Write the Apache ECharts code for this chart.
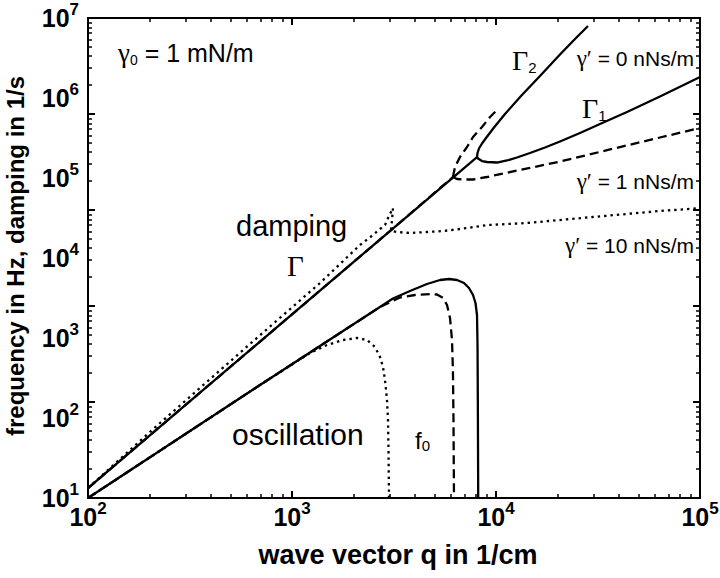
<!DOCTYPE html>
<html>
<head>
<meta charset="utf-8">
<title>capillary wave dispersion</title>
<script src="https://cdn.jsdelivr.net/npm/echarts@6.0.0/dist/echarts.min.js"></script>
<style>
  html, body { margin: 0; padding: 0; background: #fff; }
  #main { width: 720px; height: 578px; }
</style>
</head>
<body>
<div id="main"></div>
<script>
// values: q in 1/cm, frequency / damping in Hz or 1/s

// gamma' = 0 nNs/m (solid)
const q_gam0   = [100, 300, 1000, 3000, 8070];
const gam0     = [13.3, 145, 1970, 21400, 183000];
const q_gam0_2 = [8070, 8118, 8254, 8540, 8933, 9776, 11070, 13260, 16430, 20590, 24390, 28250];
const gam0_2   = [183000, 205400, 233800, 270000, 316200, 427900, 631000, 1059000, 1884000, 3498000, 5464000, 7943000];
const q_gam0_1 = [8070, 8160, 8540, 9035, 10110, 11320, 12670, 14680, 17390, 20590, 25810, 32340, 43870, 63660, 100000];
const gam0_1   = [183000, 175300, 163100, 158500, 156200, 165500, 180400, 205400, 240600, 286000, 365200, 473200, 668300, 1044000, 1830000];
const q_f0     = [100, 697, 3127, 3788, 4589, 5315, 5885, 6440, 6967, 7373, 7715, 7934, 8070, 8118, 8146, 8181];
const f0       = [10, 258.5, 3117, 3868, 4732, 5309, 5464, 5309, 4870, 4217, 3447, 2738, 1939, 817.5, 167.9, 10];

// gamma' = 1 nNs/m (dashed)
const q_gam1   = [100, 300, 1000, 3000, 6150];
const gam1     = [13.3, 145, 1970, 21400, 102900];
const q_gam1_2 = [6150, 6295, 6660, 7210, 7715, 8540, 9346, 10110];
const gam1_2   = [102900, 137200, 183000, 244100, 325500, 434100, 578800, 707900];
const q_gam1_1 = [6150, 6440, 6890, 7715, 9035, 10820, 14680, 20590, 36220, 63660, 100000];
const gam1_1   = [102900, 97160, 95780, 95780, 102900, 113800, 133400, 160800, 227200, 320800, 421700];
const q_f1     = [100, 697, 2700, 3383, 4008, 4749, 5138, 5498, 5753, 5951, 6086, 6150, 6189, 6224];
const f1       = [10, 258.5, 2441, 3208, 3447, 3548, 3498, 3162, 2585, 1778, 944, 398, 94.4, 10];

// gamma' = 10 nNs/m (dotted)
const q_gam10  = [100, 201, 622, 1372, 2154, 2495, 2700, 2857, 2955, 3057, 3127, 3092, 3057, 3271, 3788, 4589, 5498, 6660, 9139, 14190, 29890, 63660, 100000];
const gam10    = [13.3, 66.8, 841, 4870, 14540, 19390, 23040, 25850, 31620, 37580, 42170, 29850, 21750, 21130, 20540, 21130, 21750, 23040, 25850, 27380, 32550, 38680, 42000];
const q_f10    = [100, 697, 1225, 1484, 1778, 2083, 2331, 2552, 2700, 2793, 2857, 2922, 2955, 2972, 2989];
const f10      = [10, 258.5, 649, 817.5, 944, 1000, 944, 772, 579, 434, 298.5, 167.9, 94.4, 39.8, 10];

// tick labels
const xLabels = [100, 1000, 10000, 100000];
const yLabels = [10, 100, 1000, 10000, 100000, 1000000, 10000000];
// the printed y tick marks follow their own 5-decade spacing
const yTickMarks = [1, 10, 100, 1000, 10000, 100000];

const minorsOf = majors => {
  const out = [];
  majors.slice(0, -1).forEach(m => { for (let k = 2; k < 10; k++) out.push(m * k); });
  return out;
};

const pairs = (xs, ys) => xs.map((x, i) => [x, ys[i]]);

const SOLID = 'solid', DASHED = [9, 5], DOTTED = [2.4, 4];
const line = (xs, ys, dash) => ({
  type: 'line',
  data: pairs(xs, ys),
  symbol: 'none',
  silent: true,
  clip: true,
  lineStyle: { color: '#000', width: 2.3, type: dash, join: 'round' }
});

const SANS = "'Liberation Sans', Arial, sans-serif";
const SERIF = "'Liberation Serif', 'Times New Roman', serif";

const powLabel = {
  formatter: v => '{b|10}{e|' + Math.round(Math.log10(v)) + '}',
  rich: {
    b: { fontFamily: SANS, fontWeight: 'bold', fontSize: 25, lineHeight: 34, color: '#000' },
    e: { fontFamily: SANS, fontWeight: 'bold', fontSize: 17, lineHeight: 17, verticalAlign: 'top', color: '#000' }
  }
};

// tick-only axis (no line, no labels)
const tickAxis = (pos, min, max, values, len) => ({
  type: 'log', position: pos, min: min, max: max,
  axisLine: { show: false },
  splitLine: { show: false },
  axisLabel: { show: false },
  axisTick: { show: true, inside: true, length: len, customValues: values,
              lineStyle: { color: '#000', width: len > 5 ? 2 : 1.5 } }
});

const chart = echarts.init(document.getElementById('main'), null, { renderer: 'svg' });

chart.setOption({
  animation: false,
  backgroundColor: '#fff',
  grid: {
    left: 88, right: 20, top: 18, bottom: 80,
    show: true, borderColor: '#000', borderWidth: 2,
    containLabel: false, outerBoundsMode: 'none'
  },
  xAxis: [
    {
      type: 'log', position: 'bottom', min: 100, max: 100000,
      axisLine: { show: false }, splitLine: { show: false },
      axisTick: { show: true, inside: true, length: 7, customValues: xLabels, lineStyle: { color: '#000', width: 2 } },
      axisLabel: Object.assign({ customValues: xLabels, margin: 2 }, powLabel)
    },
    tickAxis('bottom', 100, 100000, minorsOf(xLabels), 4),
    tickAxis('top', 100, 100000, xLabels, 7),
    tickAxis('top', 100, 100000, minorsOf(xLabels), 4)
  ],
  yAxis: [
    {
      type: 'log', position: 'left', min: 10, max: 10000000,
      axisLine: { show: false }, splitLine: { show: false },
      axisTick: { show: false },
      axisLabel: Object.assign({ customValues: yLabels, margin: 9 }, powLabel)
    },
    tickAxis('left', 1, 100000, yTickMarks, 7),
    tickAxis('left', 1, 100000, minorsOf(yTickMarks), 4),
    tickAxis('right', 1, 100000, yTickMarks, 7),
    tickAxis('right', 1, 100000, minorsOf(yTickMarks), 4)
  ],
  series: [
    line(q_f10, f10, DOTTED),
    line(q_gam10, gam10, DOTTED),
    line(q_f1, f1, DASHED),
    line(q_gam1, gam1, DASHED),
    line(q_gam1_2, gam1_2, DASHED),
    line(q_gam1_1, gam1_1, DASHED),
    line(q_f0, f0, SOLID),
    line(q_gam0, gam0, SOLID),
    line(q_gam0_2, gam0_2, SOLID),
    line(q_gam0_1, gam0_1, SOLID)
  ],
  graphic: [
    { type: 'text', x: 118, y: 53, style: {
      text: '{g|γ}{s|0}{t| = 1 mN/m}', verticalAlign: 'middle',
      rich: {
        g: { fontFamily: SERIF, fontSize: 27, lineHeight: 28, fill: '#000' },
        s: { fontFamily: SANS, fontSize: 14, lineHeight: 14, verticalAlign: 'bottom', fill: '#000' },
        t: { fontFamily: SANS, fontSize: 25, lineHeight: 28, fill: '#000' }
      } } },
    { type: 'text', x: 236, y: 226, style: { text: 'damping', fontFamily: SANS, fontSize: 29, fill: '#000', verticalAlign: 'middle' } },
    { type: 'text', x: 287, y: 266, style: { text: 'Γ', fontFamily: SERIF, fontSize: 29, fill: '#000', verticalAlign: 'middle' } },
    { type: 'text', x: 512, y: 60, style: {
      text: '{G|Γ}{s|2}', verticalAlign: 'middle',
      rich: {
        G: { fontFamily: SERIF, fontSize: 28, lineHeight: 30, fill: '#000' },
        s: { fontFamily: SANS, fontSize: 15, lineHeight: 15, verticalAlign: 'bottom', fill: '#000' }
      } } },
    { type: 'text', x: 582, y: 108, style: {
      text: '{G|Γ}{s|1}', verticalAlign: 'middle',
      rich: {
        G: { fontFamily: SERIF, fontSize: 28, lineHeight: 30, fill: '#000' },
        s: { fontFamily: SANS, fontSize: 15, lineHeight: 15, verticalAlign: 'bottom', fill: '#000' }
      } } },
    { type: 'text', x: 694, y: 58, style: {
      text: '{g|γ′}{t| = 0 nNs/m}', align: 'right', verticalAlign: 'middle',
      rich: { g: { fontFamily: SERIF, fontSize: 23, fill: '#000' }, t: { fontFamily: SANS, fontSize: 21, fill: '#000' } } } },
    { type: 'text', x: 694, y: 181, style: {
      text: '{g|γ′}{t| = 1 nNs/m}', align: 'right', verticalAlign: 'middle',
      rich: { g: { fontFamily: SERIF, fontSize: 23, fill: '#000' }, t: { fontFamily: SANS, fontSize: 21, fill: '#000' } } } },
    { type: 'text', x: 694, y: 245, style: {
      text: '{g|γ′}{t| = 10 nNs/m}', align: 'right', verticalAlign: 'middle',
      rich: { g: { fontFamily: SERIF, fontSize: 23, fill: '#000' }, t: { fontFamily: SANS, fontSize: 21, fill: '#000' } } } },
    { type: 'text', x: 232, y: 434, style: { text: 'oscillation', fontFamily: SANS, fontSize: 30, fill: '#000', verticalAlign: 'middle' } },
    { type: 'text', x: 415, y: 440, style: {
      text: '{f|f}{s|0}', verticalAlign: 'middle',
      rich: {
        f: { fontFamily: SANS, fontSize: 24, lineHeight: 26, fill: '#000' },
        s: { fontFamily: SANS, fontSize: 15, lineHeight: 15, verticalAlign: 'bottom', fill: '#000' }
      } } },
    { type: 'text', x: 398, y: 555, style: { text: 'wave vector q in 1/cm', fontFamily: SANS, fontWeight: 'bold', fontSize: 27, fill: '#000', align: 'center', verticalAlign: 'middle' } },
    { type: 'text', x: 15, y: 256, rotation: Math.PI / 2, style: { text: 'frequency in Hz, damping in 1/s', fontFamily: SANS, fontWeight: 'bold', fontSize: 24, fill: '#000', align: 'center', verticalAlign: 'middle' } }
  ]
});
</script>
</body>
</html>
